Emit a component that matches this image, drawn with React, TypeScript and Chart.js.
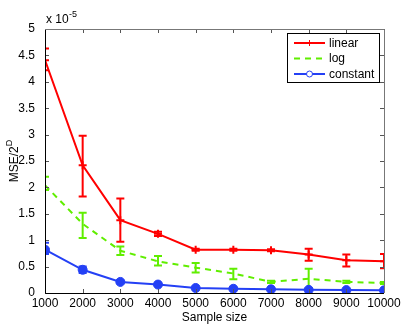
import React, { useEffect, useRef } from "react";
import { Chart, registerables } from "chart.js";
Chart.register(...registerables);

const sampleSizes = [1000, 2000, 3000, 4000, 5000, 6000, 7000, 8000, 9000, 10000];
const linearMean = [4.41, 2.42, 1.38, 1.12, 0.82, 0.82, 0.81, 0.73, 0.62, 0.6];
const linearLow = [4.22, 1.83, 0.97, 1.08, 0.8, 0.8, 0.79, 0.61, 0.5, 0.47];
const linearHigh = [4.63, 2.98, 1.79, 1.16, 0.84, 0.84, 0.83, 0.84, 0.73, 0.74];
const logMean = [2.04, 1.31, 0.8, 0.6, 0.48, 0.37, 0.21, 0.27, 0.21, 0.19];
const logLow = [1.95, 1.04, 0.72, 0.52, 0.39, 0.26, 0.19, 0.08, 0.19, 0.17];
const logHigh = [2.2, 1.52, 0.88, 0.7, 0.57, 0.46, 0.23, 0.46, 0.23, 0.21];
const constMean = [0.82, 0.44, 0.21, 0.16, 0.095, 0.08, 0.07, 0.06, 0.055, 0.05];
const constLow = [0.74, 0.38, 0.19, 0.14, 0.085, 0.07, 0.06, 0.05, 0.045, 0.04];
const constHigh = [0.95, 0.5, 0.23, 0.18, 0.105, 0.09, 0.08, 0.07, 0.065, 0.06];
const yTicks = [0, 0.5, 1, 1.5, 2, 2.5, 3, 3.5, 4, 4.5, 5];
const seriesLabels = ["linear", "log", "constant"];

const RED = "rgb(255,0,0)";
const GREEN = "rgb(96,238,0)";
const BLUE = "rgb(36,64,245)";
const FONT = "'Liberation Sans', Arial, sans-serif";

const errors = [
  { low: linearLow, high: linearHigh },
  { low: logLow, high: logHigh },
  { low: constLow, high: constHigh },
];

const matlabPlugin = {
  id: "matlab",
  beforeDatasetsDraw(chart: any) {
    const { ctx, chartArea: a, scales } = chart;
    const xs = scales.x, ys = scales.y;
    ctx.save();
    ctx.beginPath();
    ctx.rect(a.left, a.top, a.right - a.left, a.bottom - a.top);
    ctx.clip();
    chart.data.datasets.forEach((ds: any, i: number) => {
      const e = errors[i];
      ctx.strokeStyle = ds.borderColor;
      ctx.lineWidth = 2;
      ctx.setLineDash([]);
      sampleSizes.forEach((s, j) => {
        const x = xs.getPixelForValue(s);
        const y1 = ys.getPixelForValue(e.low[j]);
        const y2 = ys.getPixelForValue(e.high[j]);
        ctx.beginPath();
        ctx.moveTo(x, y1); ctx.lineTo(x, y2);
        ctx.moveTo(x - 4, y1); ctx.lineTo(x + 4, y1);
        ctx.moveTo(x - 4, y2); ctx.lineTo(x + 4, y2);
        ctx.stroke();
      });
    });
    ctx.restore();
  },
  afterDraw(chart: any) {
    const { ctx, chartArea: a, scales } = chart;
    const xs = scales.x, ys = scales.y;
    ctx.save();
    ctx.strokeStyle = "#555";
    ctx.lineWidth = 1;
    ctx.beginPath();
    sampleSizes.forEach((s) => {
      const x = Math.round(xs.getPixelForValue(s)) + 0.5;
      ctx.moveTo(x, a.bottom); ctx.lineTo(x, a.bottom - 4);
      ctx.moveTo(x, a.top); ctx.lineTo(x, a.top + 4);
    });
    yTicks.forEach((t) => {
      const y = Math.round(ys.getPixelForValue(t)) + 0.5;
      ctx.moveTo(a.left, y); ctx.lineTo(a.left + 4, y);
      ctx.moveTo(a.right, y); ctx.lineTo(a.right - 4, y);
    });
    ctx.stroke();
    ctx.strokeStyle = "#000";
    ctx.beginPath();
    ctx.moveTo(a.left + 0.5, a.top); ctx.lineTo(a.left + 0.5, a.bottom + 0.5); ctx.lineTo(a.right, a.bottom + 0.5);
    ctx.stroke();
    ctx.strokeStyle = "#777";
    ctx.beginPath();
    ctx.moveTo(a.left, a.top + 0.5); ctx.lineTo(a.right + 0.5, a.top + 0.5); ctx.lineTo(a.right + 0.5, a.bottom);
    ctx.stroke();
    ctx.fillStyle = "#000";
    // x tick labels
    ctx.font = `12px ${FONT}`;
    ctx.textAlign = "center";
    ctx.textBaseline = "middle";
    sampleSizes.forEach((s) => {
      ctx.fillText(String(s), xs.getPixelForValue(s), a.bottom + 11);
    });
    ctx.textBaseline = "alphabetic";
    ctx.textAlign = "left";
    ctx.font = `12px ${FONT}`;
    ctx.fillText("x 10", a.left + 1, a.top - 6);
    ctx.font = `9px ${FONT}`;
    ctx.fillText("-5", a.left + 24, a.top - 12);
    ctx.font = `12px ${FONT}`;
    ctx.textAlign = "center";
    ctx.fillText("Sample size", (a.left + a.right) / 2, 321);
    ctx.save();
    ctx.translate(18, (a.top + a.bottom) / 2);
    ctx.rotate(-Math.PI / 2);
    ctx.font = `12px ${FONT}`;
    const main = "MSE/2";
    const w1 = ctx.measureText(main).width;
    ctx.font = `9px ${FONT}`;
    const w2 = ctx.measureText("D").width;
    const start = -(w1 + w2) / 2;
    ctx.textAlign = "left";
    ctx.font = `12px ${FONT}`;
    ctx.fillText(main, start, 0);
    ctx.font = `9px ${FONT}`;
    ctx.fillText("D", start + w1, -6);
    ctx.restore();
    const lx = 287.5, ly = 33.5, lw = 92, lh = 49;
    ctx.fillStyle = "#fff";
    ctx.fillRect(lx, ly, lw, lh);
    ctx.strokeStyle = "#000";
    ctx.lineWidth = 1;
    ctx.strokeRect(lx, ly, lw, lh);
    const rows = [43, 58.5, 74];
    chart.data.datasets.forEach((ds: any, i: number) => {
      const y = rows[i];
      ctx.strokeStyle = ds.borderColor;
      ctx.lineWidth = 2;
      ctx.setLineDash(ds.borderDash || []);
      ctx.beginPath();
      ctx.moveTo(294, y); ctx.lineTo(325, y);
      ctx.stroke();
      ctx.setLineDash([]);
      ctx.lineWidth = 1;
      if (i === 0) {
        ctx.beginPath();
        ctx.moveTo(309.5, y - 3); ctx.lineTo(309.5, y + 3);
        ctx.stroke();
      } else if (i === 2) {
        ctx.beginPath();
        ctx.arc(309.5, y, 3, 0, Math.PI * 2);
        ctx.fillStyle = "#fff";
        ctx.fill();
        ctx.stroke();
      }
      ctx.fillStyle = "#000";
      ctx.font = `12px ${FONT}`;
      ctx.textAlign = "left";
      ctx.textBaseline = "middle";
      ctx.fillText(ds.label, 329, y + 0.5);
    });
    ctx.restore();
  },
};

export default function App() {
  const ref = useRef<HTMLCanvasElement>(null);
  useEffect(() => {
    if (!ref.current) return;
    const chart = new Chart(ref.current, {
      type: "line",
      data: {
        datasets: [
          {
            label: seriesLabels[0],
            data: sampleSizes.map((s, i) => ({ x: s, y: linearMean[i] })),
            borderColor: RED, backgroundColor: RED, borderWidth: 2,
            pointStyle: "cross", pointRadius: 4, pointBorderWidth: 2,
          },
          {
            label: seriesLabels[1],
            data: sampleSizes.map((s, i) => ({ x: s, y: logMean[i] })),
            borderColor: GREEN, backgroundColor: GREEN, borderWidth: 2,
            borderDash: [6, 5], pointRadius: 0,
          },
          {
            label: seriesLabels[2],
            data: sampleSizes.map((s, i) => ({ x: s, y: constMean[i] })),
            borderColor: BLUE, backgroundColor: BLUE, borderWidth: 2,
            pointStyle: "circle", pointRadius: 4.5, pointBorderWidth: 1,
          },
        ],
      },
      options: {
        animation: false,
        responsive: false,
        devicePixelRatio: 1,
        layout: { padding: { left: 0, right: 31, top: 29, bottom: 0 } },
        plugins: { legend: { display: false }, tooltip: { enabled: false } },
        scales: {
          x: {
            type: "linear", min: 1000, max: 10000,
            afterFit: (s: any) => { s.height = 39; },
            afterBuildTicks: (s: any) => { s.ticks = sampleSizes.map((v) => ({ value: v })); },
            grid: { display: false },
            border: { display: false },
            ticks: { display: false },
          },
          y: {
            type: "linear", min: 0, max: 5,
            afterFit: (s: any) => { s.width = 45; },
            afterBuildTicks: (s: any) => { s.ticks = yTicks.map((v) => ({ value: v })); },
            grid: { display: false },
            border: { display: false },
            ticks: { color: "#000", font: { family: FONT, size: 12 }, padding: 2, callback: (v: any) => String(v) },
          },
        },
      },
      plugins: [matlabPlugin],
    });
    return () => chart.destroy();
  }, []);
  return (
    <div style={{ position: "fixed", left: 0, top: 0, width: 415, height: 332, background: "#fff" }}>
      <canvas ref={ref} width={415} height={332} style={{ width: 415, height: 332 }} />
    </div>
  );
}
